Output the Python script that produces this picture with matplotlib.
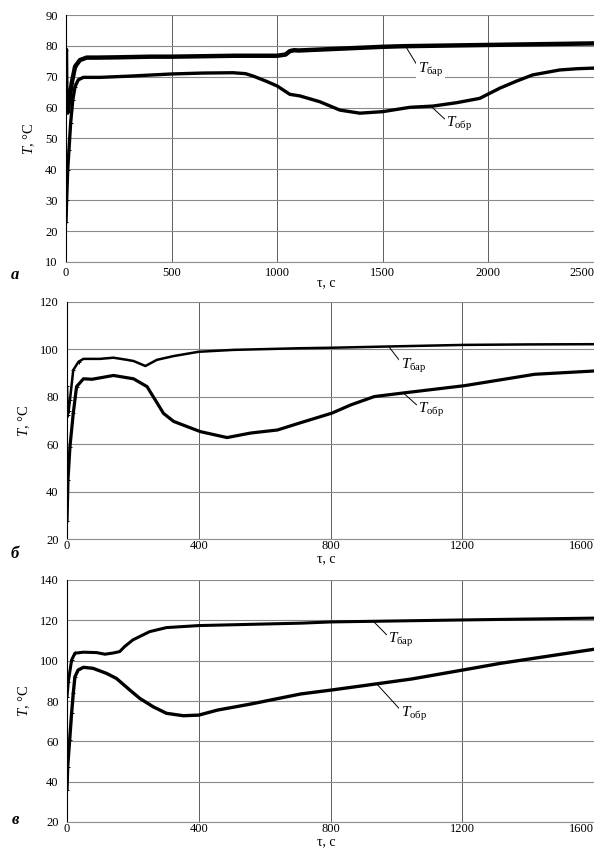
import numpy as np
import matplotlib.pyplot as plt

plt.rcParams['font.family'] = ['Liberation Serif', 'DejaVu Serif']
plt.rcParams['mathtext.fontset'] = 'custom'
plt.rcParams['mathtext.rm'] = 'Liberation Serif'
plt.rcParams['mathtext.it'] = 'Liberation Serif:italic'
plt.rcParams['font.size'] = 9

# panel a
ta_bar = [0, 1, 2, 4, 8, 15, 27, 43, 66, 98, 150, 250, 400, 500, 600, 800, 1000, 1040,
          1060, 1080, 1100, 1200, 1300, 1400, 1500, 1600, 1700, 1800, 1900, 2000, 2100,
          2200, 2300, 2400, 2500]
Ta_bar = [78.8, 68.4, 63.8, 58.7, 58.5, 62, 67.9, 73.3, 75.4, 76.2, 76.2, 76.3, 76.5, 76.5,
          76.6, 76.8, 76.8, 77.2, 78.3, 78.6, 78.5, 78.8, 79.1, 79.4, 79.7, 79.9, 80, 80.1,
          80.2, 80.3, 80.4, 80.5, 80.6, 80.7, 80.8]
ta_obr = [0, 3, 8, 14, 22, 32, 43, 58, 82, 161, 300, 500, 650, 791, 850, 887, 950, 1000,
          1060, 1107, 1202, 1297, 1391, 1500, 1628, 1737, 1850, 1959, 2054, 2130, 2210,
          2338, 2420, 2500]
Ta_obr = [22.8, 30, 39.8, 46.3, 55, 62.5, 66.8, 69, 69.8, 69.8, 70.2, 70.9, 71.2, 71.3, 71,
          70.2, 68.5, 67, 64.3, 63.8, 61.9, 59.2, 58.2, 58.7, 60.1, 60.5, 61.6, 63, 66.3,
          68.5, 70.6, 72.2, 72.6, 72.8]

# panel b
tb_bar = [0, 2, 5, 9, 19, 35, 50, 100, 141, 182, 202, 238, 273, 324, 400, 506, 710, 804,
          1000, 1206, 1400, 1602]
Tb_bar = [84.6, 72.4, 74, 78.7, 91.3, 94.8, 96, 96, 96.5, 95.6, 95.1, 93, 95.6, 97.2, 99,
          99.8, 100.5, 100.7, 101.3, 101.9, 102.1, 102.2]
tb_obr = [0, 3, 9, 19, 29, 50, 76, 141, 202, 243, 293, 324, 405, 486, 557, 639, 710, 804,
          862, 933, 1014, 1207, 1420, 1602]
Tb_obr = [27.4, 45, 59, 73, 84.3, 87.6, 87.4, 89, 87.6, 84.3, 73, 69.6, 65.3, 62.8, 64.7,
          66, 69.1, 73.1, 76.6, 80.1, 81.5, 84.7, 89.5, 90.9]

# panel c
tc_bar = [0, 4, 14, 24, 50, 90, 115, 140, 160, 175, 200, 251, 302, 400, 710, 801, 1203, 1602]
Tc_bar = [82.1, 89.6, 100.3, 103.7, 104.2, 104, 103.2, 103.8, 104.5, 107, 110.3, 114.4,
          116.4, 117.4, 118.6, 119.2, 120.2, 121.1]
tc_obr = [0, 2, 8, 14, 19, 24, 34, 50, 79, 120, 150, 191, 221, 262, 302, 353, 400, 457,
          558, 710, 801, 913, 1046, 1203, 1317, 1602]
Tc_obr = [35.8, 47.3, 60.6, 73.9, 83.8, 92, 95.4, 96.7, 96.2, 93.7, 91.2, 85.4, 81.3, 77.1,
          73.9, 72.7, 73, 75.5, 78.5, 83.5, 85.4, 87.9, 90.9, 95.4, 98.7, 105.7]

panels = [
    dict(bar=(ta_bar, Ta_bar), obr=(ta_obr, Ta_obr), xlim=(0, 2500), xt=[0, 500, 1000, 1500, 2000, 2500],
         ylim=(10, 90), yt=range(10, 91, 10), box=(66, 15, 262), letter='а', lw=(3.2, 2.4),
         xpad=3.5, xlab=283, let=275,
         ann_bar=((1613, 79.3), (1666, 72.2)), ann_obr=((1732, 60.2), (1800, 54.7))),
    dict(bar=(tb_bar, Tb_bar), obr=(tb_obr, Tb_obr), xlim=(0, 1600), xt=[0, 400, 800, 1200, 1600],
         ylim=(20, 120), yt=range(20, 121, 20), box=(67, 302, 539), letter='б', lw=(1.8, 2.3),
         xpad=0.5, xlab=559, let=554,
         ann_bar=((978, 101), (1014, 93)), ann_obr=((1023, 81.4), (1066, 74.5))),
    dict(bar=(tc_bar, Tc_bar), obr=(tc_obr, Tc_obr), xlim=(0, 1600), xt=[0, 400, 800, 1200, 1600],
         ylim=(20, 140), yt=range(20, 141, 20), box=(67, 580, 822), letter='в', lw=(2.2, 2.4),
         xpad=0.8, xlab=842, let=820,
         ann_bar=((932, 119.2), (975, 110.3)), ann_obr=((938, 88.9), (1014, 73.5))),
]

W, H = 594, 850
fig = plt.figure(figsize=(W / 100, H / 100), dpi=100)

for p in panels:
    left, top, bottom = p['box']
    ax = fig.add_axes([left / W, 1 - bottom / H, (W - left) / W, (bottom - top) / H])
    ax.set_xlim(*p['xlim'])
    ax.set_ylim(*p['ylim'])
    ax.set_xticks(p['xt'])
    ax.set_yticks(list(p['yt']))
    ax.tick_params(length=0, labelsize=9)
    ax.tick_params(axis='y', pad=6)
    ax.tick_params(axis='x', pad=p['xpad'])
    for s in ['top', 'right']:
        ax.spines[s].set_visible(False)
    ax.spines['bottom'].set_color('#909090')
    ax.spines['left'].set_color('black')
    ax.spines['left'].set_linewidth(0.8)
    ax.grid(axis='y', color='#8a8a8a', lw=0.8)
    ax.grid(axis='x', color='#444444', lw=0.6)
    ax.set_axisbelow(True)
    ax.get_xticklabels()[-1].set_ha('right')

    for (t, T), lw in [(p['bar'], p['lw'][0]), (p['obr'], p['lw'][1])]:
        early = [i for i, v in enumerate(t) if v <= 45]
        ax.plot(t, T, color='black', lw=lw, marker='+', ms=3, mew=0.7, markevery=early,
                solid_joinstyle='round', solid_capstyle='round')

    for (xy, xyt), lab in [(p['ann_bar'], r'$T_{\mathrm{бар}}$'), (p['ann_obr'], r'$T_{\mathrm{обр}}$')]:
        ax.annotate(lab, xy=xy, xytext=xyt, fontsize=11, ha='left', va='center',
                    arrowprops=dict(arrowstyle='-', color='black', lw=0.7, shrinkA=0, shrinkB=0,
                                    relpos=(0, 0.7)),
                    bbox=dict(boxstyle='square,pad=0.1', fc='white', ec='none'))

    ax.set_ylabel(r'$T$, °C', fontsize=10.5, labelpad=6)
    fig.text(326 / W, 1 - p['xlab'] / H, 'τ, с', fontsize=10, ha='center', va='center')
    fig.text(15 / W, 1 - p['let'] / H, p['letter'], fontsize=12, ha='center', va='center',
             fontweight='bold', fontstyle='italic')

plt.savefig('out.png', dpi=100)
